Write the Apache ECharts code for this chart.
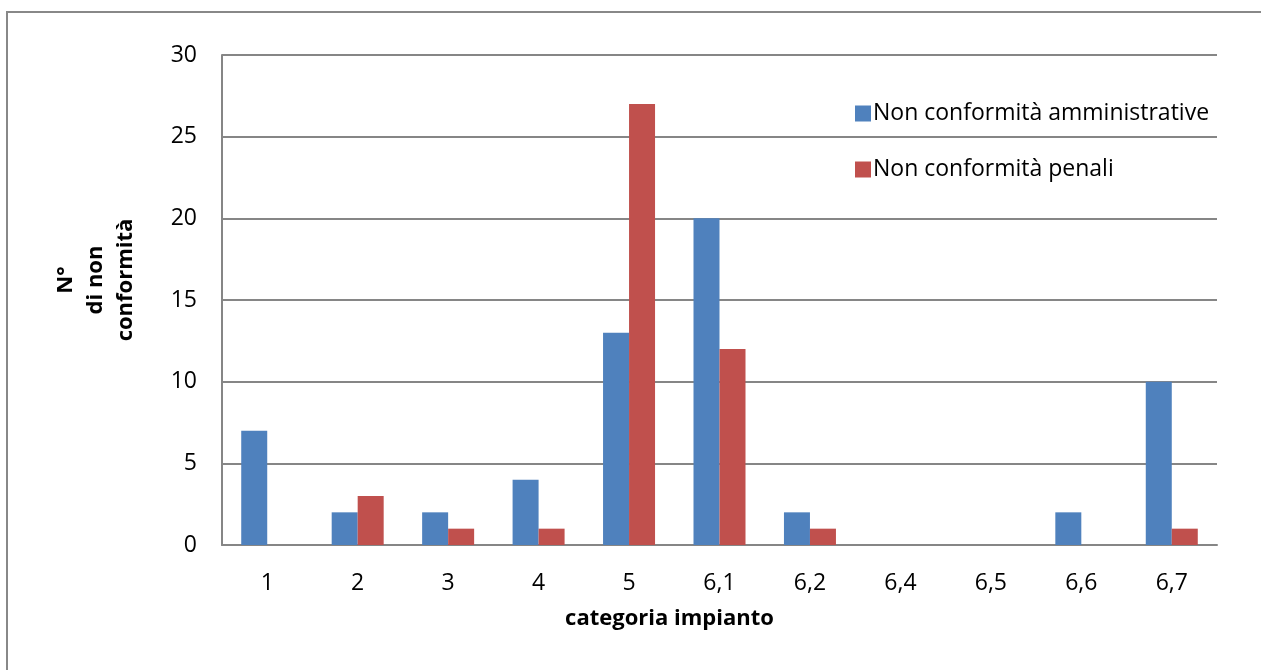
<!DOCTYPE html>
<html>
<head>
<meta charset="utf-8">
<script src="https://cdn.jsdelivr.net/npm/echarts@6/dist/echarts.min.js"></script>
<style>
html,body{margin:0;padding:0;background:#fff;}
#chart{width:1261px;height:670px;}
</style>
</head>
<body>
<div id="chart"></div>
<script>
var categorie = ["1","2","3","4","5","6,1","6,2","6,4","6,5","6,6","6,7"];
var amministrative = [7,2,2,4,13,20,2,0,0,2,10];
var penali = [0,3,1,1,27,12,1,0,0,0,1];
var yTicks = {min:0, max:30, interval:5};

var fontName = "Open Sans";
var lineColor = "#868686";

var option = {
    animation: false,
    color: ["#4F81BD", "#C0504D"],
    graphic: [
        {
            type: "rect",
            shape: {x: 7, y: 12, width: 1300, height: 700},
            style: {fill: "none", stroke: "#888888", lineWidth: 2},
            silent: true
        },
        {
            type: "text",
            x: 96, y: 280,
            rotation: Math.PI / 2,
            style: {
                text: "N°\ndi non\nconformità",
                font: "bold 22px " + fontName,
                fill: "#000",
                align: "center",
                verticalAlign: "middle",
                lineHeight: 30
            }
        }
    ],
    legend: {
        orient: "vertical",
        left: 850,
        top: 97,
        itemWidth: 16,
        itemHeight: 16,
        itemGap: 33,
        icon: "rect",
        textStyle: {fontFamily: fontName, fontSize: 23, color: "#000", padding: [0, 0, 0, -3]},
        data: ["Non conformità amministrative", "Non conformità penali"]
    },
    grid: {left: 222, right: 44, top: 55, bottom: 125},
    xAxis: {
        type: "category",
        data: categorie,
        name: "categoria impianto",
        nameLocation: "middle",
        nameGap: 63,
        nameTextStyle: {fontFamily: fontName, fontSize: 22, fontWeight: "bold", color: "#000", padding: [0, 100, 0, 0]},
        axisLine: {lineStyle: {color: lineColor, width: 2}},
        axisTick: {show: false},
        axisLabel: {fontFamily: fontName, fontSize: 23, color: "#000", margin: 27}
    },
    yAxis: {
        type: "value",
        min: yTicks.min,
        max: yTicks.max,
        interval: yTicks.interval,
        axisLine: {show: true, lineStyle: {color: lineColor, width: 2}},
        axisTick: {show: false},
        axisLabel: {fontFamily: fontName, fontSize: 23, color: "#000", margin: 25},
        splitLine: {lineStyle: {color: lineColor, width: 2}}
    },
    series: [
        {
            name: "Non conformità amministrative",
            type: "bar",
            data: amministrative,
            barWidth: 26,
            barGap: "0%"
        },
        {
            name: "Non conformità penali",
            type: "bar",
            data: penali,
            barWidth: 26,
            barGap: "0%"
        }
    ]
};

var chart = echarts.init(document.getElementById("chart"));
chart.setOption(option);
</script>
</body>
</html>
